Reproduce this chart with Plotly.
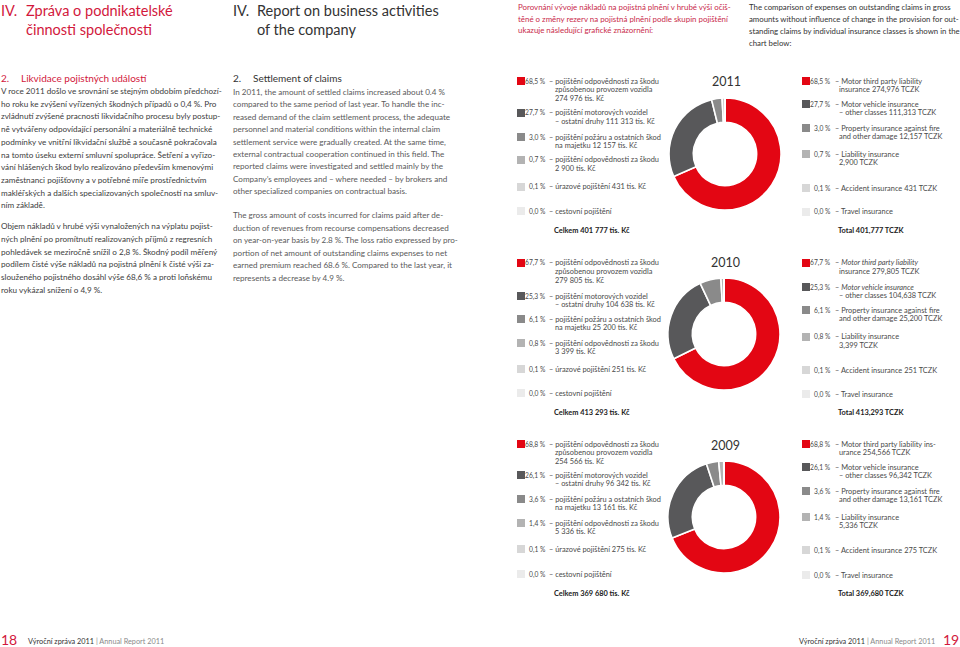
import plotly.graph_objects as go

W, H = 960, 647
FONT = "Lato"

# ---------------- data ----------------
years = ["2011", "2010", "2009"]
values_2011 = [274976, 111313, 12157, 2900, 431, 0]
values_2010 = [279805, 104638, 25200, 3399, 251, 0]
values_2009 = [254566, 96342, 13161, 5336, 275, 0]
pct_2011 = ["68,5", "27,7", "3,0", "0,7", "0,1", "0,0"]
pct_2010 = ["67,7", "25,3", "6,1", "0,8", "0,1", "0,0"]
pct_2009 = ["68,8", "26,1", "3,6", "1,4", "0,1", "0,0"]
classes_en = ["Motor third party liability insurance",
              "Motor vehicle insurance – other classes",
              "Property insurance against fire and other damage",
              "Liability insurance", "Accident insurance", "Travel insurance"]
slice_colors = ["#e30613", "#58585a", "#8a8a8a", "#b3b3b3", "#d7d7d7", "#ebebeb"]

cz_entry_lines = [
    ["– pojištění odpovědnosti za škodu", "způsobenou provozem vozidla", "{a} tis. Kč"],
    ["– pojištění motorových vozidel", "– ostatní druhy {a} tis. Kč"],
    ["– pojištění požáru a ostatních škod", "na majetku {a} tis. Kč"],
    ["– pojištění odpovědnosti za škodu", "{a} tis. Kč"],
    ["– úrazové pojištění {a} tis. Kč"],
    ["– cestovní pojištění"],
]
en_entry_lines = [
    ["– Motor third party liability", "insurance {a} TCZK"],
    ["– Motor vehicle insurance", "– other classes {a} TCZK"],
    ["– Property insurance against fire", "and other damage {a} TCZK"],
    ["– Liability insurance", "{a} TCZK"],
    ["– Accident insurance {a} TCZK"],
    ["– Travel insurance"],
]
en_first_2009 = ["– Motor third party liability ins-", "urance {a} TCZK"]

cz_par1 = [
    "V roce 2011 došlo ve srovnání se stejným obdobím předchozí-",
    "ho roku ke zvýšení vyřízených škodných případů o 0,4 %. Pro",
    "zvládnutí zvýšené pracnosti likvidačního procesu byly postup-",
    "ně vytvářeny odpovídající personální a materiálně technické",
    "podmínky ve vnitřní likvidační službě a současně pokračovala",
    "na tomto úseku externí smluvní spolupráce. Šetření a vyřizo-",
    "vání hlášených škod bylo realizováno především kmenovými",
    "zaměstnanci pojišťovny a v potřebné míře prostřednictvím",
    "makléřských a dalších specializovaných společností na smluv-",
    "ním základě.",
]
cz_par2 = [
    "Objem nákladů v hrubé výši vynaložených na výplatu pojist-",
    "ných plnění po promítnutí realizovaných příjmů z regresních",
    "pohledávek se meziročně snížil o 2,8 %. Škodný podíl měřený",
    "podílem čisté výše nákladů na pojistná plnění k čisté výši za-",
    "slouženého pojistného dosáhl výše 68,6 % a proti loňskému",
    "roku vykázal snížení o 4,9 %.",
]
en_par1 = [
    "In 2011, the amount of settled claims increased about 0.4 %",
    "compared to the same period of last year. To handle the inc-",
    "reased demand of the claim settlement process, the adequate",
    "personnel and material conditions within the internal claim",
    "settlement service were gradually created. At the same time,",
    "external contractual cooperation continued in this field. The",
    "reported claims were investigated and settled mainly by the",
    "Company’s employees and – where needed – by brokers and",
    "other specialized companies on contractual basis.",
]
en_par2 = [
    "The gross amount of costs incurred for claims paid after de-",
    "duction of revenues from recourse compensations decreased",
    "on year-on-year basis by 2.8 %. The loss ratio expressed by pro-",
    "portion of net amount of outstanding claims expenses to net",
    "earned premium reached 68.6 %. Compared to the last year, it",
    "represents a decrease by 4.9 %.",
]
cz_intro = [
    "Porovnání vývoje nákladů na pojistná plnění v hrubé výši očiš-",
    "těné o změny rezerv na pojistná plnění podle skupin pojištění",
    "ukazuje následující grafické znázornění:",
]
en_intro = [
    "The comparison of expenses on outstanding claims in gross",
    "amounts without influence of change in the provision for out-",
    "standing claims by individual insurance classes is shown in the",
    "chart below:",
]

# ---------------- layout positions (pixels) ----------------
RED_TXT = "#d2183c"
DARK = "#333333"
BODY_CZ = "#3c3c3c"
BODY_EN = "#5a5a5a"
LEG = "#4a4a4a"

pie_centers = [(725, 154), (724, 334), (724, 517)]
pie_r = 56
year_label_y = [82, 262, 445]
cz_y = [[81, 113, 137, 160, 187, 211], [263, 296, 319, 343, 369, 393], [444, 475, 499, 523, 549, 574]]
en_y = [[81, 104, 128, 154, 188, 212], [263, 287, 310, 337, 370, 394], [444, 467, 491, 517, 550, 575]]
total_y = [230, 412, 593]
SUB = 8.8
LEG_SIZE = 7.4
PCT_SIZE = 6.7

ann = []
shapes = []


def X(x):
    return x / W


def Y(y):
    return 1 - y / H


def txt(x, y, s, size, color, anchor="left"):
    ann.append(dict(x=X(x), y=Y(y), xref="paper", yref="paper", text=s,
                    showarrow=False, xanchor=anchor, yanchor="middle",
                    borderpad=0, font=dict(family=FONT, size=size, color=color)))


def square(x, y, color):
    shapes.append(dict(type="rect", xref="paper", yref="paper",
                       x0=X(x), x1=X(x + 8), y0=Y(y + 4), y1=Y(y - 4),
                       fillcolor=color, line=dict(width=0)))


# headers
txt(0, 11, "IV.", 14.5, RED_TXT)
txt(25, 11, "Zpráva o podnikatelské", 14.5, RED_TXT)
txt(25, 29, "činnosti společnosti", 14.5, RED_TXT)
txt(232, 11, "IV.", 14.5, DARK)
txt(256, 11, "Report on business activities", 14.5, DARK)
txt(256, 29, "of the company", 14.5, DARK)

for i, s in enumerate(cz_intro):
    txt(517, 7 + 11.6 * i, s, 7.9, "#c92a4a")
for i, s in enumerate(en_intro):
    txt(748, 7 + 12.1 * i, s, 7.8, DARK)

# left page columns
txt(0, 78, "2.", 10, RED_TXT)
txt(20, 78, "Likvidace pojistných událostí", 10, RED_TXT)
for i, s in enumerate(cz_par1):
    txt(0, 91 + 12.7 * i, s, 8.15, BODY_CZ)
for i, s in enumerate(cz_par2):
    txt(0, 226 + 12.8 * i, s, 8.15, BODY_CZ)

txt(232, 78, "2.", 10, DARK)
txt(252, 78, "Settlement of claims", 10, DARK)
for i, s in enumerate(en_par1):
    txt(232, 92 + 12.4 * i, s, 8.1, BODY_EN)
for i, s in enumerate(en_par2):
    txt(232, 215 + 12.6 * i, s, 8.1, BODY_EN)

# donuts and legends
all_values = [values_2011, values_2010, values_2009]
all_pct = [pct_2011, pct_2010, pct_2009]
traces = []
for k, year in enumerate(years):
    vals = all_values[k]
    pcts = all_pct[k]
    cx, cy = pie_centers[k]
    traces.append(go.Pie(
        values=vals, labels=classes_en, hole=0.565, sort=False,
        direction="clockwise", rotation=0, textinfo="none",
        marker=dict(colors=slice_colors, line=dict(color="white", width=1.6)),
        domain=dict(x=[X(cx - pie_r), X(cx + pie_r)], y=[Y(cy + pie_r), Y(cy - pie_r)]),
        showlegend=False, hoverinfo="label+value+percent"))
    txt(cx + 1, year_label_y[k], year, 12.5, DARK, anchor="center")

    total = sum(vals)
    for j in range(6):
        a_cz = f"{vals[j]:,}".replace(",", " ")
        a_en = f"{vals[j]:,}"
        # Czech
        yy = cz_y[k][j]
        square(517, yy, slice_colors[j])
        txt(546.5, yy, f"{pcts[j]} %", PCT_SIZE, LEG, anchor="right")
        lines = cz_entry_lines[j]
        txt(548, yy, lines[0].format(a=a_cz), LEG_SIZE, LEG)
        for n, s in enumerate(lines[1:]):
            txt(553.5, yy + SUB * (n + 1), s.format(a=a_cz), LEG_SIZE, LEG)
        # English
        yy = en_y[k][j]
        square(802, yy, slice_colors[j])
        txt(832, yy, f"{pcts[j]} %", PCT_SIZE, LEG, anchor="right")
        lines = en_first_2009 if (year == "2009" and j == 0) else en_entry_lines[j]
        first = lines[0].format(a=a_en)
        if year == "2010" and j < 2:
            first = "– <i>" + first[2:] + "</i>"
        txt(834, yy, first, LEG_SIZE, LEG)
        for n, s in enumerate(lines[1:]):
            txt(838, yy + SUB * (n + 1), s.format(a=a_en), LEG_SIZE, LEG)
    txt(553, total_y[k], "<b>Celkem " + f"{total:,}".replace(",", " ") + " tis. Kč</b>", LEG_SIZE, "#222222")
    txt(837, total_y[k], "<b>Total " + f"{total:,}" + " TCZK</b>", LEG_SIZE, "#222222")

# footer
txt(0, 639.5, "18", 14, RED_TXT)
txt(27, 641, "Výroční zpráva 2011 <span style='color:#8a8a8a'>| Annual Report 2011</span>", 7.3, DARK)
txt(960, 639.5, "19", 14, RED_TXT, anchor="right")
txt(936, 641, "Výroční zpráva 2011 <span style='color:#8a8a8a'>| Annual Report 2011</span>", 7.3, DARK, anchor="right")

fig = go.Figure(traces)
fig.update_layout(width=W, height=H, margin=dict(l=0, r=0, t=0, b=0),
                  paper_bgcolor="white", plot_bgcolor="white",
                  annotations=ann, shapes=shapes, showlegend=False,
                  font=dict(family=FONT))
fig.write_html("out.html", config={"displayModeBar": False},
               post_script="document.body.style.margin='0';document.body.style.overflow='hidden';")
